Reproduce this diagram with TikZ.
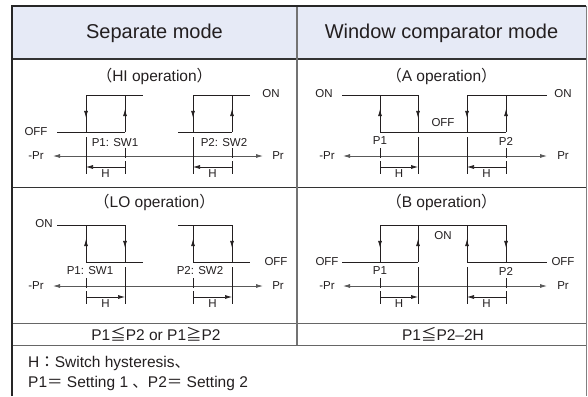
\documentclass[tikz,border=0pt]{standalone}
\usepackage{fontspec}
\setmainfont{Liberation Sans}
\newfontfamily\cjk{Noto Sans CJK JP}
\usepackage{tikz}
\usetikzlibrary{arrows.meta}
\usetikzlibrary{decorations,decorations.markings}
\definecolor{headblue}{RGB}{230,234,246}
\definecolor{inkgray}{RGB}{35,31,32}
\tikzstyle{loopline}=[line width=0.8pt, draw=inkgray]
\tikzstyle{dimline}=[line width=0.7pt, draw=inkgray]
\tikzstyle{axisline}=[line width=0.8pt, draw=black!65, {Latex[length=7pt,width=4pt]}-{Latex[length=7pt,width=4pt]}]
\tikzstyle{midarrow}=[postaction={decorate}, decoration={markings, mark=at position 0.62 with {\arrow{Latex[length=7pt,width=4pt]}}}]
\tikzstyle{smalltxt}=[inner sep=0pt, text=inkgray, font=\fontsize{11.5}{12}\selectfont]
\tikzstyle{opstxt}=[inner sep=0pt, text=inkgray, font=\fontsize{15.5}{17}\selectfont]
\tikzstyle{headtxt}=[inner sep=0pt, text=inkgray, font=\fontsize{20}{22}\selectfont]
\newcommand{\vArrow}[3]{
	\draw[loopline,midarrow] (#1,#2) -- (#1,#3);
}
\newcommand{\extLine}[1]{
	\draw[dimline] (#1,137) -- (#1,174);
}
\newcommand{\pTick}[1]{
	\draw[dimline] (#1,148) -- (#1,158);
	\draw[dimline] (#1,161) -- (#1,174);
}
\newcommand{\hDim}[4]{
	\draw[dimline,-{Latex[length=7pt,width=4pt]}] (#1,167) -- (#2,167);
	\node[smalltxt] (#4) at (#3,173.5) {H};
}
\newcommand{\prAxis}[5]{
	\draw[axisline] (#1,156) -- (#2,156);
	\node[smalltxt] (#5L) at (#3,156) {-Pr};
	\node[smalltxt] (#5R) at (#4,156) {Pr};
}

\begin{document}
\begin{tikzpicture}[x=1pt,y=-1pt]
	\useasboundingbox (0,0) rectangle (588,396);
	\fill[headblue] (12,6) rectangle (586,59);
	\draw[line width=1.1pt, black!80] (12,59) -- (586,59);
	\draw[line width=0.9pt, black!80] (12,187) -- (586,187);
	\draw[line width=0.9pt, black!60] (12,323) -- (586,323);
	\draw[line width=0.9pt, black!60] (12,345) -- (586,345);
	\draw[line width=1.3pt, black!55] (297,6) -- (297,345);
	\draw[line width=0.9pt, black!50] (586,6) -- (586,396);
	\draw[line width=1.8pt, black!85] (12,396) -- (12,6) -- (586,6);
	\node[headtxt] (sepHead) at (154.5,33) {Separate mode};
	\node[headtxt] (winHead) at (441.5,33) {Window comparator mode};
	\node[opstxt] (hiTitle) at (154.5,76) {{\cjk （}HI operation{\cjk ）}};
	\node[opstxt] (aTitle) at (441.5,76) {{\cjk （}A operation{\cjk ）}};
	\node[opstxt] (loTitle) at (154.5,202) {{\cjk （}LO operation{\cjk ）}};
	\node[opstxt] (bTitle) at (441.5,202) {{\cjk （}B operation{\cjk ）}};
	\node[opstxt] (sepCond) at (156,334) {P1{\cjk ≦}P2 or P1{\cjk ≧}P2};
	\node[opstxt] (winCond) at (443,334) {P1{\cjk ≦}P2–2H};
	\node[opstxt, anchor=west] (noteH) at (28,363) {H{\cjk ：}Switch hysteresis{\cjk 、}};
	\node[opstxt, anchor=west] (noteP) at (28,383) {P1{\cjk ＝} Setting 1 {\cjk 、}P2{\cjk ＝} Setting 2};

	\node[smalltxt] (hiOff) at (36,132) {OFF};
	\node[smalltxt] (hiOn) at (271,94) {ON};
	\draw[loopline] (57,132) -- (125,132);
	\draw[loopline] (86,95) -- (143,95);
	\vArrow{125}{132}{95}
	\vArrow{86}{95}{132}
	\draw[loopline] (178,132) -- (232,132);
	\draw[loopline] (193,95) -- (250,95);
	\vArrow{232}{132}{95}
	\vArrow{193}{95}{132}
	\node[smalltxt] (hiPone) at (115,143) {P1: SW1};
	\node[smalltxt] (hiPtwo) at (224,143) {P2: SW2};
	\prAxis{53}{263}{36}{278}{hiPr}
	\extLine{86}
	\extLine{193}
	\pTick{125}
	\pTick{232}
	\hDim{125}{86}{105.5}{hiHone}
	\hDim{232}{193}{212.5}{hiHtwo}

	\begin{scope}[shift={(0,130)}]
		\node[smalltxt] (loOn) at (44,94) {ON};
		\node[smalltxt] (loOff) at (276,132) {OFF};
		\draw[loopline] (57,95) -- (125,95);
		\draw[loopline] (86,132) -- (143,132);
		\vArrow{86}{132}{95}
		\vArrow{125}{95}{132}
		\draw[loopline] (178,95) -- (232,95);
		\draw[loopline] (193,132) -- (250,132);
		\vArrow{193}{132}{95}
		\vArrow{232}{95}{132}
		\node[smalltxt] (loPone) at (90,141) {P1: SW1};
		\node[smalltxt] (loPtwo) at (200,141) {P2: SW2};
		\prAxis{53}{263}{36}{278}{loPr}
		\extLine{125}
		\extLine{232}
		\pTick{86}
		\pTick{193}
		\hDim{86}{125}{105.5}{loHone}
		\hDim{193}{232}{212.5}{loHtwo}
	\end{scope}

	\node[smalltxt] (aOnL) at (324,94) {ON};
	\node[smalltxt] (aOnR) at (563,94) {ON};
	\node[smalltxt] (aOff) at (443,123) {OFF};
	\draw[loopline] (342,95) -- (418,95);
	\draw[loopline] (380,132) -- (506,132);
	\draw[loopline] (467,95) -- (547,95);
	\vArrow{380}{132}{95}
	\vArrow{418}{95}{132}
	\vArrow{467}{95}{132}
	\vArrow{506}{132}{95}
	\node[smalltxt] (aPone) at (380,141) {P1};
	\node[smalltxt] (aPtwo) at (506,141) {P2};
	\prAxis{343}{547}{327}{563}{aPr}
	\extLine{418}
	\extLine{467}
	\pTick{380}
	\pTick{506}
	\hDim{380}{418}{399}{aHone}
	\hDim{506}{467}{486.5}{aHtwo}

	\begin{scope}[shift={(0,130)}]
		\node[smalltxt] (bOn) at (443,106) {ON};
		\node[smalltxt] (bOffL) at (327,132) {OFF};
		\node[smalltxt] (bOffR) at (563,132) {OFF};
		\draw[loopline] (380,95) -- (506,95);
		\draw[loopline] (342,132) -- (418,132);
		\draw[loopline] (467,132) -- (547,132);
		\vArrow{380}{95}{132}
		\vArrow{418}{132}{95}
		\vArrow{467}{132}{95}
		\vArrow{506}{95}{132}
		\node[smalltxt] (bPone) at (380,141) {P1};
		\node[smalltxt] (bPtwo) at (506,141) {P2};
		\prAxis{343}{547}{327}{563}{bPr}
		\extLine{418}
		\extLine{467}
		\pTick{380}
		\pTick{506}
		\hDim{380}{418}{399}{bHone}
		\hDim{506}{467}{486.5}{bHtwo}
	\end{scope}
\end{tikzpicture}
\end{document}
